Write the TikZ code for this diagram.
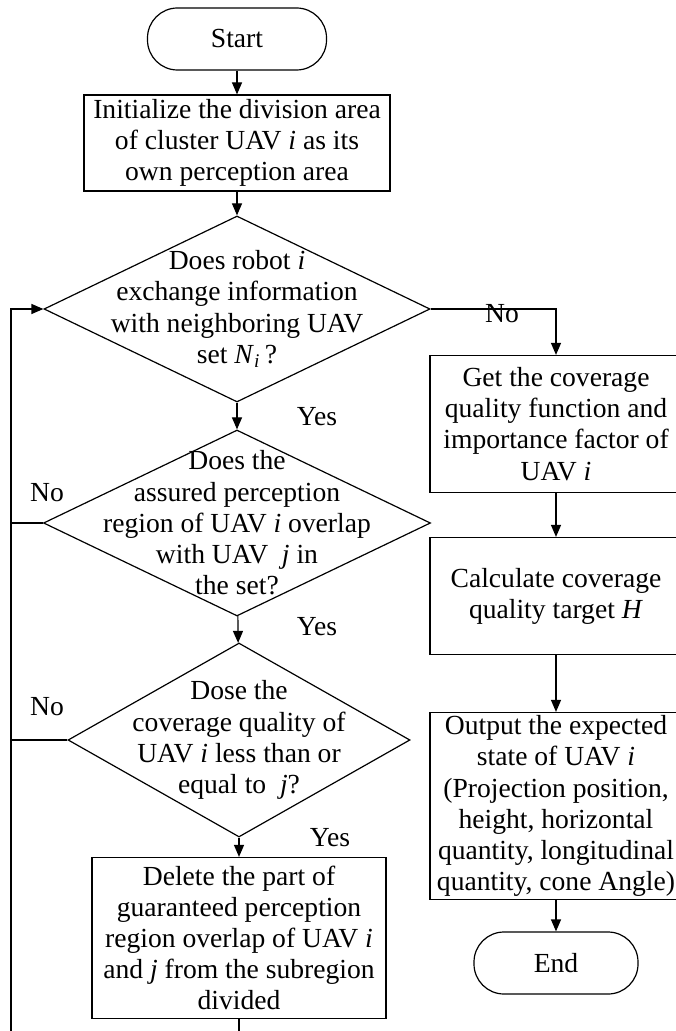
\documentclass[tikz,border=0pt]{standalone}
\usepackage{fontspec}
\setmainfont{Liberation Serif}
\usetikzlibrary{arrows.meta,shapes.geometric}

\begin{document}
\begin{tikzpicture} [x=0.5pt,y=-0.5pt,line width=0.6pt,>={Triangle[length=6pt,width=5pt]},every node/.style={align=center,font=\fontsize{13.8pt}{15.6pt}\selectfont},term/.style={draw,rounded corners=15pt,minimum width=89.5pt,minimum height=31pt},proc/.style={draw,inner sep=0pt,minimum width=126pt},decision/.style={draw,diamond,inner sep=0pt}]
			\useasboundingbox (0,0) rectangle (675,1031);
			\node [term] (start) at (237,39) {Start};
			\node [proc,minimum width=153pt,minimum height=48pt] (init) at (237,143) {Initialize the division area\\of cluster UAV \textit{i} as its\\own perception area};
			\node [decision,minimum width=193pt,minimum height=93pt,label={center:Does robot \textit{i}\\exchange information\\with neighboring UAV\\set \textit{N}\textsubscript{\textit{i}}\,?}] (ask) at (237,309) {};
			\node [decision,minimum width=193.5pt,minimum height=93pt,label={center:Does the\\assured perception\\region of UAV \textit{i} overlap\\with UAV \ \textit{j} in\\the set?}] (overlap) at (237,523) {};
			\node [decision,minimum width=171pt,minimum height=97pt,label={center:Dose the\\coverage quality of\\UAV \textit{i} less than or\\equal to \ \textit{j}?}] (less) at (239,740) {};
			\node [proc,minimum width=147pt,minimum height=80.5pt] (del) at (239,938) {Delete the part of\\guaranteed perception\\region overlap of UAV \textit{i}\\and \textit{j} from the subregion\\divided};
			\node [proc,minimum height=68.5pt] (get) at (556,424) {Get the coverage\\quality function and\\importance factor of\\UAV \textit{i}};
			\node [proc,minimum height=58.5pt] (calc) at (556,596) {Calculate coverage\\quality target \textit{H}};
			\node [proc,minimum height=93.5pt] (out) at (556,806) {Output the expected\\state of UAV \textit{i}\\(Projection position,\\height, horizontal\\quantity, longitudinal\\quantity, cone Angle)};
			\node [term,minimum width=82pt] (stop) at (556,963) {End};
			\node (yes1) at (317,417) {Yes};
			\node (yes2) at (317,627) {Yes};
			\node (yes3) at (330,838) {Yes};
			\node (no1) at (502,314) {No};
			\node (no2) at (47,493) {No};
			\node (no3) at (47,707) {No};
			\coordinate (back) at (239,1045);
			\coordinate (backl) at (11,1045);
			\draw [->] (start) -- (init);
			\draw [->] (init) -- (ask);
			\draw [->] (ask) -- (overlap);
			\draw [->] (overlap) -- (less);
			\draw [->] (less) -- (del);
			\draw [->] (ask.east) -| (get.north);
			\draw [->] (get) -- (calc);
			\draw [->] (calc) -- (out);
			\draw [->] (out) -- (stop);
			\draw [->] (del) -- (back) -- (backl) |- (ask.west);
			\draw (overlap.west) -- (overlap.west -| backl);
			\draw (less.west) -- (less.west -| backl);
		\end{tikzpicture}
\end{document}
